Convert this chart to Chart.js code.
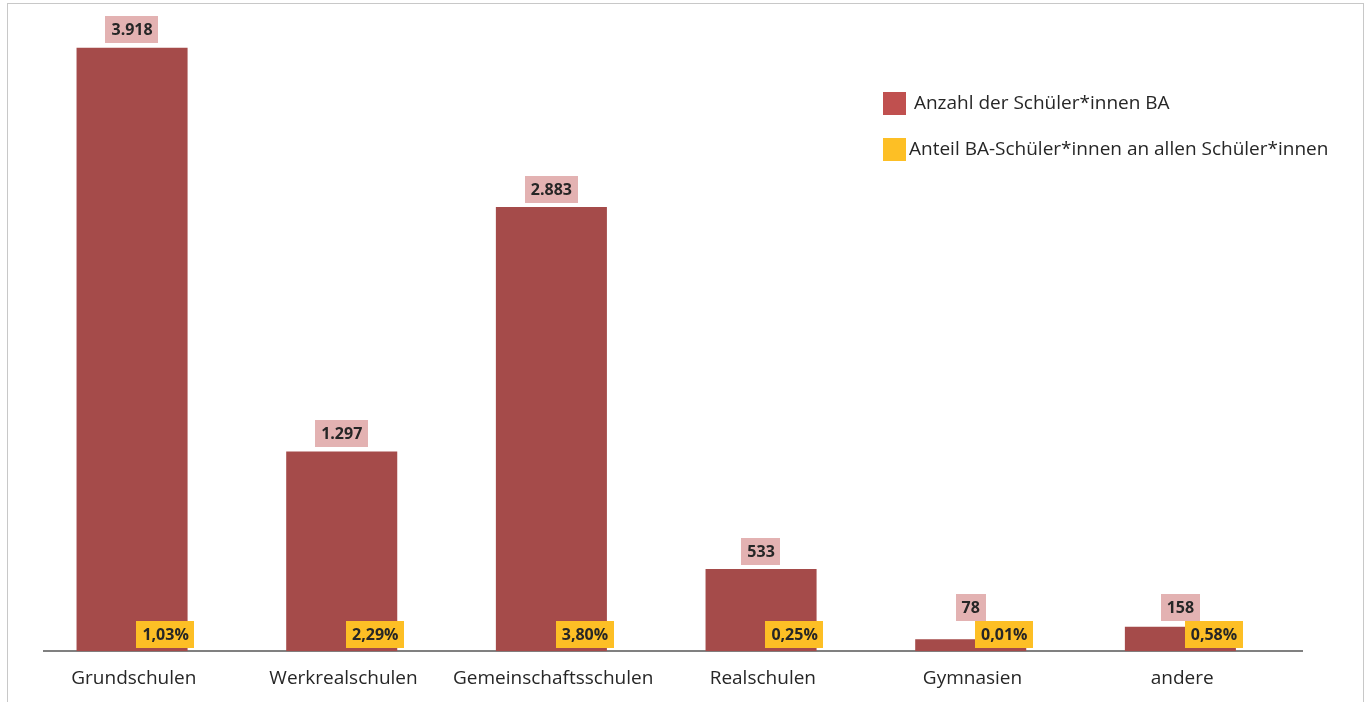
<!DOCTYPE html>
<html lang="de">
<head>
<meta charset="utf-8">
<title>Schüler*innen BA</title>
<script src="https://cdn.jsdelivr.net/npm/chart.js@4.4.1/dist/chart.umd.min.js"></script>
<style>
  html, body { margin: 0; padding: 0; background: #fff; }
  #wrap { position: relative; width: 1370px; height: 702px; }
</style>
</head>
<body>
<div id="wrap"><canvas id="baChart" width="1370" height="702"></canvas></div>
<script>
// --- data ---
const schularten = ['Grundschulen', 'Werkrealschulen', 'Gemeinschaftsschulen', 'Realschulen', 'Gymnasien', 'andere'];
const anzahlBA = [3918, 1297, 2883, 533, 78, 158];
const anteilBA = [1.03, 2.29, 3.80, 0.25, 0.01, 0.58];
const seriesNames = [' Anzahl der Schüler*innen BA', 'Anteil BA-Schüler*innen an allen Schüler*innen'];

const BAR_RED = '#a54b4a';
const LEGEND_RED = '#c0504f';
const LABEL_PINK = '#e3b2b2';
const YELLOW = '#fdbf25';
const TEXT_DARK = '#262626';
const FONT = '"Open Sans", "Noto Sans", sans-serif';

// german number formats
function fmtCount(v) {
    return String(v).replace(/\B(?=(\d{3})+(?!\d))/g, '.');
}
function fmtPct(v) {
    return v.toFixed(2).replace('.', ',') + '%';
}

// frame around the whole figure
const framePlugin = {
    id: 'frame',
    beforeDraw(chart) {
        const ctx = chart.ctx;
        ctx.save();
        ctx.fillStyle = '#fff';
        ctx.fillRect(0, 0, chart.width, chart.height);
        ctx.strokeStyle = '#c8c8c8';
        ctx.lineWidth = 1;
        ctx.strokeRect(7.5, 3.5, 1356, 760);
        ctx.restore();
    }
};

function drawBoxLabel(ctx, text, cx, bottom, fill) {
    ctx.font = 'bold 16px ' + FONT;
    const w = ctx.measureText(text).width + 12;
    const h = 27;
    ctx.fillStyle = fill;
    ctx.fillRect(Math.round(cx - w / 2), Math.round(bottom - h), Math.round(w), h);
    ctx.fillStyle = TEXT_DARK;
    ctx.textAlign = 'center';
    ctx.textBaseline = 'middle';
    ctx.fillText(text, cx, bottom - h / 2 + 1);
}

// value boxes: pink above the bars, yellow at the base
const labelPlugin = {
    id: 'boxLabels',
    afterDatasetsDraw(chart) {
        const ctx = chart.ctx;
        const counts = chart.getDatasetMeta(0).data;
        const shares = chart.getDatasetMeta(1).data;
        const base = chart.chartArea.bottom;
        const yellowBottom = base - 3;
        const yellowTop = yellowBottom - 27;
        ctx.save();
        counts.forEach((bar, i) => {
            const pinkBottom = Math.min(bar.y - 4.5, yellowTop);
            drawBoxLabel(ctx, fmtCount(anzahlBA[i]), bar.x, pinkBottom, LABEL_PINK);
        });
        shares.forEach((bar, i) => {
            drawBoxLabel(ctx, fmtPct(anteilBA[i]), bar.x, yellowBottom, YELLOW);
        });
        ctx.restore();
    }
};

// legend drawn in the upper right of the plot
const legendPlugin = {
    id: 'sideLegend',
    afterDraw(chart) {
        const ctx = chart.ctx;
        const colors = [LEGEND_RED, YELLOW];
        ctx.save();
        ctx.font = '19px ' + FONT;
        ctx.textAlign = 'left';
        ctx.textBaseline = 'middle';
        chart.data.datasets.forEach((ds, i) => {
            const y = 92 + i * 46;
            ctx.fillStyle = colors[i];
            ctx.fillRect(883, y, 23, 23);
            ctx.fillStyle = TEXT_DARK;
            ctx.fillText(ds.label, 909, y + 12);
        });
        ctx.restore();
    }
};

new Chart(document.getElementById('baChart'), {
    type: 'bar',
    data: {
        labels: schularten,
        datasets: [{
            label: seriesNames[0],
            data: anzahlBA,
            backgroundColor: BAR_RED,
            yAxisID: 'y',
            categoryPercentage: 0.32,
            barPercentage: 3.31
        }, {
            label: seriesNames[1],
            data: anteilBA,
            backgroundColor: 'rgba(0,0,0,0)',
            yAxisID: 'y2',
            categoryPercentage: 0.32,
            barPercentage: 3.31
        }]
    },
    options: {
        responsive: false,
        animation: false,
        layout: { padding: { left: 44, right: 68, top: 35, bottom: -4 } },
        scales: {
            x: {
                grid: { display: false, drawTicks: false },
                border: { display: true, color: '#808080', width: 2 },
                ticks: {
                    padding: 16,
                    labelOffset: -15,
                    color: TEXT_DARK,
                    font: { family: FONT, size: 19 },
                    maxRotation: 0
                }
            },
            y: { display: false, min: 0, max: 4000 },
            y2: { display: false, min: 0, max: 100 }
        },
        plugins: {
            legend: { display: false },
            tooltip: { enabled: false }
        }
    },
    plugins: [framePlugin, labelPlugin, legendPlugin]
});
</script>
</body>
</html>
